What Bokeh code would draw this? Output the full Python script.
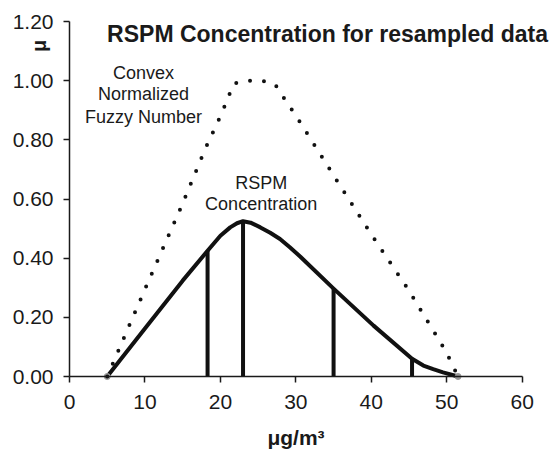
import math
from bokeh.plotting import figure
from bokeh.models import Range1d, FixedTicker, NumeralTickFormatter, Label
from bokeh.embed import file_html
from bokeh.resources import INLINE

# ---- data ----
x_ticks = [0, 10, 20, 30, 40, 50, 60]
y_ticks = [0.0, 0.2, 0.4, 0.6, 0.8, 1.0, 1.2]

fuzzy_x = [5, 10, 15, 18, 20, 21, 21.7, 23.5, 25.4, 27.2, 28.2, 30.3, 35, 40, 45, 49.9, 51.5]
fuzzy_y = [0, 0.295, 0.585, 0.77, 0.88, 0.94, 0.99, 1.0, 1.0, 0.99, 0.95, 0.87, 0.68, 0.48, 0.29, 0.084, 0]

rspm_x = [5, 10, 15, 18.3, 20, 21.3, 22.2, 23, 24, 25.3, 26.6, 27.9, 29.2, 30.6, 35, 40.3, 45.4, 46.9, 48.2, 49.5, 51.5]
rspm_y = [0, 0.162, 0.324, 0.425, 0.476, 0.504, 0.518, 0.525, 0.52, 0.504, 0.486, 0.465, 0.437, 0.405, 0.297, 0.172, 0.06, 0.037, 0.025, 0.014, 0]

cut_x = [18.3, 23, 35, 45.4]
cut_y = [0.425, 0.525, 0.297, 0.06]

end_x = [rspm_x[0], rspm_x[-1]]
end_y = [rspm_y[0], rspm_y[-1]]

FONT = "Liberation Sans"
INK = "#1a1a1a"

W, H = 556, 451
# pixel placement of the axes inside the canvas
X0_PX, X60_PX = 69.0, 521.7
Y0_PX, Y12_PX = 376.0, 21.0
sx = (X60_PX - X0_PX) / 60.0
sy = (Y0_PX - Y12_PX) / 1.2
x_start = -X0_PX / sx
x_end = 60 + (W - X60_PX) / sx
y_end = 1.2 + Y12_PX / sy
y_start = -(H - Y0_PX) / sy

p = figure(width=W, height=H, output_backend="svg", toolbar_location=None,
           x_range=Range1d(x_start, x_end), y_range=Range1d(y_start, y_end),
           min_border=0, min_border_left=0, min_border_right=0,
           min_border_top=0, min_border_bottom=0)
p.title.visible = False
p.outline_line_color = None
p.xgrid.visible = False
p.ygrid.visible = False

for ax in (p.xaxis[0], p.yaxis[0]):
    ax.fixed_location = 0
    ax.axis_line_color = INK
    ax.axis_line_width = 1.5
    ax.major_tick_line_color = INK
    ax.major_tick_line_width = 1.5
    ax.major_tick_out = 6
    ax.major_tick_in = 0
    ax.minor_tick_line_color = None
    ax.major_label_text_font = FONT
    ax.major_label_text_font_size = "21px"
    ax.major_label_text_color = INK

p.xaxis.bounds = (0, 60)
p.yaxis.bounds = (0, 1.2)
p.xaxis.ticker = FixedTicker(ticks=x_ticks)
p.yaxis.ticker = FixedTicker(ticks=y_ticks)
p.yaxis.formatter = NumeralTickFormatter(format="0.00")
p.xaxis.major_label_standoff = 12
p.yaxis.major_label_standoff = 10

p.xaxis.axis_label = "μg/m³"
p.xaxis.axis_label_text_font = FONT
p.xaxis.axis_label_text_font_style = "bold"
p.xaxis.axis_label_text_font_size = "21px"
p.xaxis.axis_label_text_color = INK
p.xaxis.axis_label_standoff = 14

# vertical cut lines
p.segment(x0=cut_x, y0=[0] * len(cut_x), x1=cut_x, y1=cut_y, line_color="#111111", line_width=4)

# RSPM curve
p.line(rspm_x, rspm_y, line_color="#111111", line_width=4, line_join="round", line_cap="round")
p.scatter(end_x, end_y, size=6, fill_color="#999999", line_color="#999999")

# fuzzy number (dotted)
p.line(fuzzy_x, fuzzy_y, line_color="#111111", line_width=4, line_dash="0 14",
       line_cap="round", line_join="round")

# texts
p.add_layout(Label(x=34.2, y=1.159, text="RSPM Concentration for resampled data",
                   text_font=FONT, text_font_style="bold", text_font_size="23px",
                   text_color=INK, text_align="center", text_baseline="middle"))
p.add_layout(Label(x=-4.0, y=1.118, text="μ", angle=math.pi / 2,
                   text_font=FONT, text_font_style="bold", text_font_size="20px",
                   text_color=INK, text_align="center", text_baseline="middle"))

for t, yy in (("Convex", 1.027), ("Normalized", 0.956), ("Fuzzy Number", 0.878)):
    p.add_layout(Label(x=9.8, y=yy, text=t, text_font=FONT, text_font_size="18px",
                       text_color=INK, text_align="center", text_baseline="middle"))
for t, yy in (("RSPM", 0.655), ("Concentration", 0.584)):
    p.add_layout(Label(x=25.4, y=yy, text=t, text_font=FONT, text_font_size="18px",
                       text_color=INK, text_align="center", text_baseline="middle"))

open("out.html", "w").write(file_html(p, INLINE))
